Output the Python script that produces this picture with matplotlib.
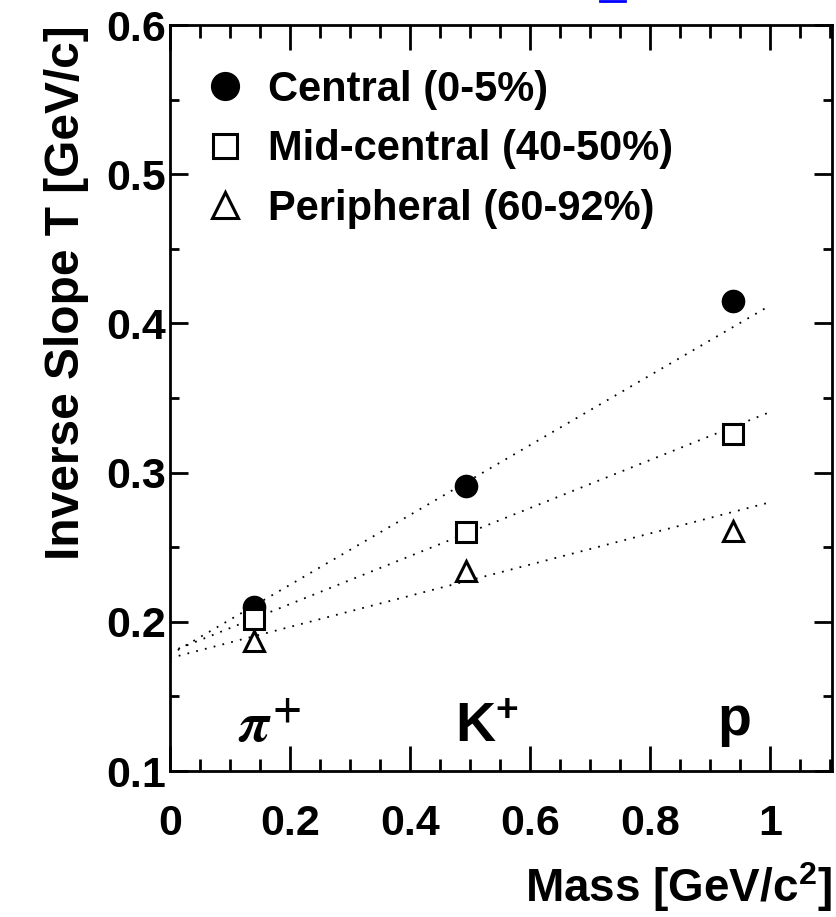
import numpy as np
import matplotlib
matplotlib.use("Agg")
import matplotlib.pyplot as plt
from matplotlib.ticker import MultipleLocator
from matplotlib.lines import Line2D

plt.rcParams['font.family'] = ['Liberation Sans', 'DejaVu Sans']
plt.rcParams['font.weight'] = 'bold'
plt.rcParams['axes.labelweight'] = 'bold'
plt.rcParams['mathtext.fontset'] = 'custom'
plt.rcParams['mathtext.rm'] = 'Liberation Sans:bold'
plt.rcParams['mathtext.it'] = 'Liberation Sans:bold'
plt.rcParams['mathtext.bf'] = 'Liberation Sans:bold'

# particle masses [GeV/c^2]
particles = ['$\\pi^{+}$', 'K$^{+}$', 'p']
masses = [0.1396, 0.4937, 0.9383]

# inverse slopes T [GeV/c]
centralT = [0.210, 0.291, 0.415]
midCentralT = [0.202, 0.260, 0.326]
peripheralT = [0.187, 0.234, 0.261]

# dotted linear fits: intercept, slope
centralFit = [0.178, 0.234]
midCentralFit = [0.1797, 0.1609]
peripheralFit = [0.1757, 0.1044]
fitRange = [0.0, 1.0]

labels = ['Central (0-5%)', 'Mid-central (40-50%)', 'Peripheral (60-92%)']

fig = plt.figure(figsize = (8.36, 9.17), dpi = 100)
ax = fig.add_axes([0.2033, 0.1592, 0.9952 - 0.2033, 0.9727 - 0.1592])

fitX = np.array(fitRange)

for fit in [centralFit, midCentralFit, peripheralFit]:

	ax.plot(fitX, fit[0] + fit[1] * fitX, color = 'black', lw = 1.3, linestyle = (0, (1, 4)))

hCentral, = ax.plot(masses, centralT, 'o', color = 'black', ms = 16, mew = 1, linestyle = 'none')
hMid, = ax.plot(masses, midCentralT, 's', mfc = 'white', mec = 'black', ms = 14, mew = 2.2, linestyle = 'none')
hPeri, = ax.plot(masses, peripheralT, '^', mfc = 'white', mec = 'black', ms = 15, mew = 2.2, linestyle = 'none')

ax.legend([hCentral, hMid, hPeri], labels, loc = 'upper left', bbox_to_anchor = (0.059, 0.94),
	frameon = False, fontsize = 30, handlelength = 0.75, handletextpad = 0.67,
	labelspacing = 0.47, borderaxespad = 0, borderpad = 0, markerscale = 1.25)

# particle labels
ax.text(0.113, 0.1196, particles[0], fontsize = 40, math_fontfamily = 'stix', ha = 'left', va = 'baseline')
ax.text(0.475, 0.1196, particles[1], fontsize = 40, ha = 'left', va = 'baseline')
ax.text(0.913, 0.124, particles[2], fontsize = 40, ha = 'left', va = 'baseline')

ax.set_xlim(0, 1.1033)
ax.set_ylim(0.1, 0.6)

ax.xaxis.set_major_locator(MultipleLocator(0.2))
ax.xaxis.set_minor_locator(MultipleLocator(0.05))
ax.yaxis.set_major_locator(MultipleLocator(0.1))
ax.yaxis.set_minor_locator(MultipleLocator(0.05))

ax.set_xticks([0, 0.2, 0.4, 0.6, 0.8, 1.0])
ax.set_xticklabels(['0', '0.2', '0.4', '0.6', '0.8', '1'])
ax.set_yticks([0.1, 0.2, 0.3, 0.4, 0.5, 0.6])
ax.set_yticklabels(['0.1', '0.2', '0.3', '0.4', '0.5', '0.6'])

ax.tick_params(axis = 'both', which = 'both', direction = 'in', top = True, right = True, width = 2)
ax.tick_params(axis = 'x', which = 'major', length = 18, pad = 24, labelsize = 31)
ax.tick_params(axis = 'x', which = 'minor', length = 9)
ax.tick_params(axis = 'y', which = 'major', length = 13, pad = 3, labelsize = 31)
ax.tick_params(axis = 'y', which = 'minor', length = 6.5)

for spine in ax.spines.values():

	spine.set_linewidth(2)

ax.set_xlabel('Mass [GeV/c$^{2}$]', fontsize = 33, loc = 'right', labelpad = 11)
ax.set_ylabel('Inverse Slope T [GeV/c]', fontsize = 34.5, loc = 'top', labelpad = 12)

# small blue link underline at the top edge
fig.add_artist(Line2D([600 / 836, 625 / 836], [916 / 917, 916 / 917], color = 'blue', lw = 2))

fig.savefig('out.png', dpi = 100)
